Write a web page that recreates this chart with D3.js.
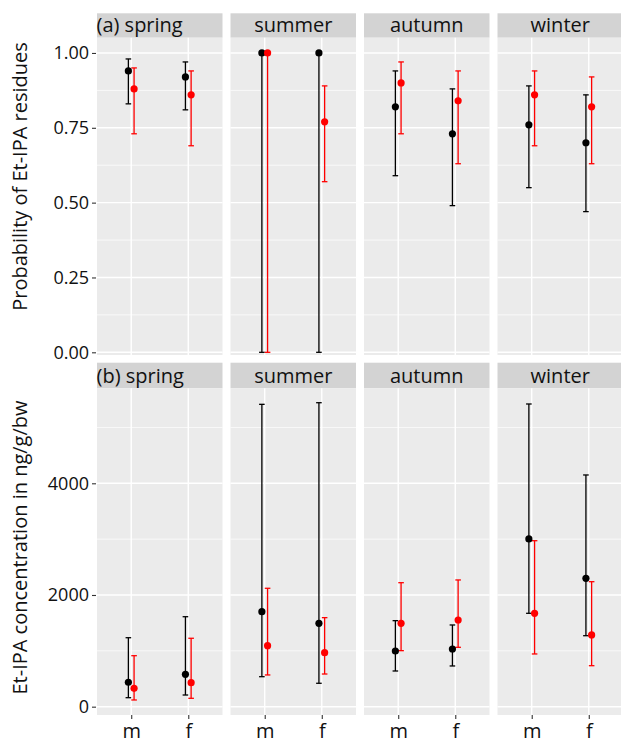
<!DOCTYPE html>
<html>
<head>
<meta charset="utf-8">
<script src="https://cdn.jsdelivr.net/npm/d3@7"></script>
<style>
  html, body { margin: 0; padding: 0; background: #fff; }
  svg { display: block; }
  text { font-family: "Open Sans", sans-serif; fill: #111; }
</style>
</head>
<body>
<svg id="chart" width="621" height="744"></svg>
<script>
// ---------- data ----------
const seasons = ["spring", "summer", "autumn", "winter"];
const sexes = ["m", "f"];
const stripTop = ["(a) spring", "summer", "autumn", "winter"];
const stripBottom = ["(b) spring", "summer", "autumn", "winter"];
const titleTop = "Probability of Et-IPA residues";
const titleBottom = "Et-IPA concentration in ng/g/bw";

// order: spring m, spring f, summer m, summer f, autumn m, autumn f, winter m, winter f
const probBlack   = [0.94, 0.92, 1.00, 1.00, 0.82, 0.73, 0.76, 0.70];
const probBlackLo = [0.83, 0.81, 0.00, 0.00, 0.59, 0.49, 0.55, 0.47];
const probBlackHi = [0.98, 0.97, 1.00, 1.00, 0.94, 0.88, 0.89, 0.86];
const probRed     = [0.88, 0.86, 1.00, 0.77, 0.90, 0.84, 0.86, 0.82];
const probRedLo   = [0.73, 0.69, 0.00, 0.57, 0.73, 0.63, 0.69, 0.63];
const probRedHi   = [0.95, 0.94, 1.00, 0.89, 0.97, 0.94, 0.94, 0.92];

const concBlack   = [437, 580, 1701, 1493, 997, 1033, 3003, 2299];
const concBlackLo = [161, 209, 537, 419, 639, 729, 1672, 1271];
const concBlackHi = [1235, 1611, 5414, 5443, 1540, 1463, 5420, 4149];
const concRed     = [329, 430, 1092, 967, 1493, 1552, 1672, 1284];
const concRedLo   = [120, 150, 568, 585, 1003, 1063, 944, 734];
const concRedHi   = [913, 1225, 2120, 1594, 2220, 2269, 2972, 2238];

const probTicks = [0, 0.25, 0.5, 0.75, 1];
const probMinor = [0.125, 0.375, 0.625, 0.875];
const concTicks = [0, 2000, 4000];
const concMinor = [1000, 3000, 5000];

// ---------- layout ----------
const svg = d3.select("#chart");
const panelLeft0 = 97, panelW = 125.5, panelGap = 8;
const panelX = seasons.map((s, i) => panelLeft0 + i * (panelW + panelGap));

const stripColor = "#d3d3d3";
const panelColor = "#ebebeb";
const colBlack = "#000000", colRed = "#ff0000";

function buildRows(mid, lo, hi, group) {
  const rows = [];
  seasons.forEach((s, si) => sexes.forEach((x, xi) => {
    const k = si * 2 + xi;
    rows.push({ season: s, si, sex: x, group, v: mid[k], lo: lo[k], hi: hi[k] });
  }));
  return rows;
}

function drawRow(cfg) {
  const { stripTop: sTop, stripBot, panelTop, panelBot, domain, ticks, minor,
          fmt, labels, title, titleY, black, red, showX } = cfg;
  const y = d3.scaleLinear().domain(domain).range([panelBot, panelTop]);
  const g = svg.append("g");

  seasons.forEach((s, i) => {
    const x0 = panelX[i], x1 = x0 + panelW;
    const x = d3.scalePoint().domain(sexes).range([x0, x1]).padding(0.6);
    const step = x.step();
    const dodge = { black: -0.05 * step, red: 0.05 * step };
    const pg = g.append("g");
    // strip
    pg.append("rect").attr("x", x0).attr("y", sTop).attr("width", panelW)
      .attr("height", stripBot - sTop).attr("fill", stripColor);
    const label = pg.append("text").attr("y", stripBot - 5.5)
      .attr("font-size", 20).text(labels[i]);
    if (i === 0) label.attr("x", x0 - 0.5).attr("text-anchor", "start");
    else label.attr("x", x0 + panelW / 2).attr("text-anchor", "middle");
    // panel
    pg.append("rect").attr("x", x0).attr("y", panelTop).attr("width", panelW)
      .attr("height", panelBot - panelTop).attr("fill", panelColor);
    // minor grid
    pg.selectAll(".mn").data(minor).enter().append("line")
      .attr("x1", x0).attr("x2", x1).attr("y1", d => y(d)).attr("y2", d => y(d))
      .attr("stroke", "#fff").attr("stroke-width", 0.7);
    // major grid
    pg.selectAll(".mj").data(ticks).enter().append("line")
      .attr("x1", x0).attr("x2", x1).attr("y1", d => y(d)).attr("y2", d => y(d))
      .attr("stroke", "#fff").attr("stroke-width", 1.4);
    pg.selectAll(".vx").data(sexes).enter().append("line")
      .attr("x1", d => x(d)).attr("x2", d => x(d)).attr("y1", panelTop).attr("y2", panelBot)
      .attr("stroke", "#fff").attr("stroke-width", 1.4);

    const rows = black.filter(r => r.si === i).concat(red.filter(r => r.si === i));
    const color = r => r.group === "black" ? colBlack : colRed;
    const cx = r => x(r.sex) + dodge[r.group];
    const cap = 2.8;
    // error bars
    const eb = pg.selectAll(".eb").data(rows).enter().append("g");
    eb.append("line").attr("x1", cx).attr("x2", cx)
      .attr("y1", r => y(r.lo)).attr("y2", r => y(r.hi))
      .attr("stroke", color).attr("stroke-width", 1.3);
    eb.append("line").attr("x1", r => cx(r) - cap).attr("x2", r => cx(r) + cap)
      .attr("y1", r => y(r.lo)).attr("y2", r => y(r.lo))
      .attr("stroke", color).attr("stroke-width", 1.3);
    eb.append("line").attr("x1", r => cx(r) - cap).attr("x2", r => cx(r) + cap)
      .attr("y1", r => y(r.hi)).attr("y2", r => y(r.hi))
      .attr("stroke", color).attr("stroke-width", 1.3);
    // points
    pg.selectAll(".pt").data(rows).enter().append("circle")
      .attr("cx", cx).attr("cy", r => y(r.v)).attr("r", 3.6).attr("fill", color);

    if (showX) {
      const xa = pg.append("g").attr("transform", `translate(0,${panelBot})`)
        .call(d3.axisBottom(x).tickSize(4).tickPadding(4));
      xa.select(".domain").remove();
      xa.selectAll("line").attr("stroke", "#333").attr("stroke-width", 1.1);
      xa.selectAll("text").attr("font-size", 20).attr("fill", "#111")
        .attr("font-family", "'Open Sans', sans-serif").attr("dy", "0.75em");
    }
  });

  // y axis
  const ya = g.append("g").attr("transform", `translate(${panelX[0] - 1},0)`)
    .call(d3.axisLeft(y).tickValues(ticks).tickFormat(fmt).tickSize(4).tickPadding(3));
  ya.select(".domain").remove();
  ya.selectAll("line").attr("stroke", "#333").attr("stroke-width", 1.1);
  ya.selectAll("text").attr("font-size", 18).attr("fill", "#111")
    .attr("font-family", "'Open Sans', sans-serif");

  g.append("text").attr("transform", `translate(27,${titleY}) rotate(-90)`)
    .attr("text-anchor", "middle").attr("font-size", 20).text(title);
}

drawRow({
  stripTop: 13.3, stripBot: 37.7, panelTop: 37.7, panelBot: 355,
  domain: [-0.009, 1.051], ticks: probTicks, minor: probMinor,
  fmt: d3.format(".2f"), labels: stripTop, title: titleTop, titleY: 176.5,
  black: buildRows(probBlack, probBlackLo, probBlackHi, "black"),
  red: buildRows(probRed, probRedLo, probRedHi, "red"), showX: false
});

drawRow({
  stripTop: 362.7, stripBot: 388.3, panelTop: 388.3, panelBot: 715,
  domain: [-149, 5701], ticks: concTicks, minor: concMinor,
  fmt: d3.format("d"), labels: stripBottom, title: titleBottom, titleY: 547.5,
  black: buildRows(concBlack, concBlackLo, concBlackHi, "black"),
  red: buildRows(concRed, concRedLo, concRedHi, "red"), showX: true
});
</script>
</body>
</html>
